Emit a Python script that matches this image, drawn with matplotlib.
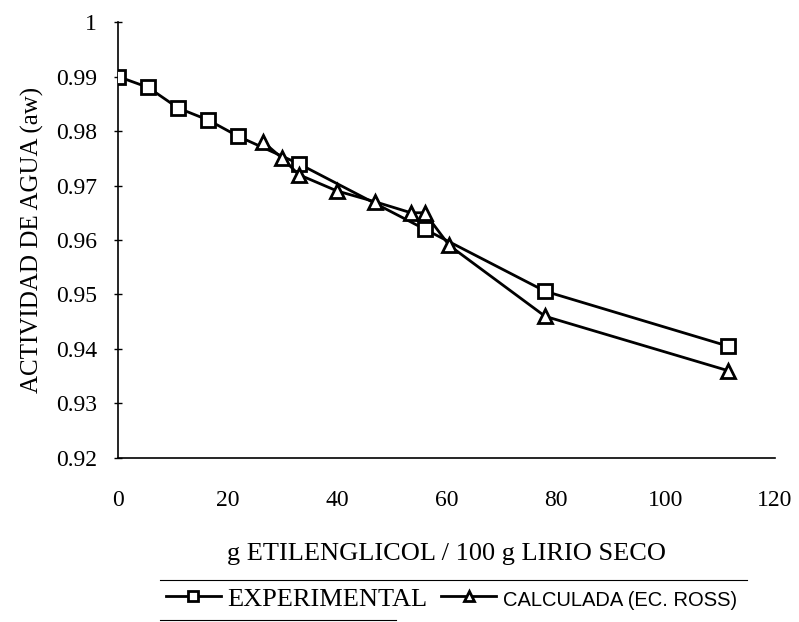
import matplotlib
matplotlib.use("Agg")
import matplotlib.pyplot as plt
from matplotlib.lines import Line2D

# --- data ---
x_exp = [0, 5.5, 11, 16.5, 22, 33, 56, 78, 111.5]
aw_exp = [0.990, 0.988, 0.9842, 0.982, 0.979, 0.974, 0.962, 0.9506, 0.9405]

x_calc = [26.5, 30, 33, 40, 47, 53.5, 56, 60.5, 78, 111.5]
aw_calc = [0.978, 0.975, 0.972, 0.969, 0.967, 0.965, 0.965, 0.959, 0.946, 0.936]

x_ticks = [0, 20, 40, 60, 80, 100, 120]
y_ticks = [0.92, 0.93, 0.94, 0.95, 0.96, 0.97, 0.98, 0.99, 1.0]
y_labels = ["0.92", "0.93", "0.94", "0.95", "0.96", "0.97", "0.98", "0.99", "1"]

SERIF = "Liberation Serif"
SANS = "Liberation Sans"

fig = plt.figure(figsize=(7.99, 6.22), dpi=100)
ax = fig.add_axes([0.1477, 0.2637, 0.8223, 0.7009])

ax.plot(x_exp, aw_exp, color="black", lw=2, marker="s", ms=10,
        mfc="white", mec="black", mew=2, label="EXPERIMENTAL", zorder=3)
ax.plot(x_calc, aw_calc, color="black", lw=2, marker="^", ms=10,
        mfc="white", mec="black", mew=2, label="CALCULADA (EC. ROSS)", zorder=4)

ax.set_xlim(0, 120)
ax.set_ylim(0.92, 1.0)
ax.set_xticks(x_ticks)
ax.set_xticklabels([str(t) for t in x_ticks], fontfamily=SERIF, fontsize=17)
ax.set_yticks(y_ticks)
ax.set_yticklabels(y_labels, fontfamily=SERIF, fontsize=17)
ax.tick_params(axis="y", direction="inout", length=6, width=1, pad=12)
ax.tick_params(axis="x", length=0, pad=23)

for s in ["top", "right"]:
    ax.spines[s].set_visible(False)
ax.spines["left"].set_linewidth(1.2)
ax.spines["bottom"].set_linewidth(1.2)

ax.set_xlabel("g ETILENGLICOL / 100 g LIRIO SECO", fontfamily=SERIF,
              fontsize=19, labelpad=23)
ax.set_ylabel("ACTIVIDAD DE AGUA (aw)", fontfamily=SERIF, fontsize=18,
              labelpad=9)

# legend below the plot, between two rules
leg = fig.legend(loc="center", bbox_to_anchor=(0.565, 0.037), ncol=2,
                 frameon=False, handlelength=2.1, handletextpad=0.25,
                 columnspacing=0.5, borderaxespad=0,
                 prop={"family": SERIF, "size": 19})
texts = leg.get_texts()
texts[1].set_fontfamily(SANS)
texts[1].set_fontsize(14.5)
for h in leg.legend_handles:
    h.set_markersize(7)

fig.add_artist(Line2D([0.2, 0.935], [0.0675, 0.0675], color="black", lw=0.8))
fig.add_artist(Line2D([0.2, 0.495], [0.003, 0.003], color="black", lw=0.8))

fig.savefig("out.png", dpi=100)
